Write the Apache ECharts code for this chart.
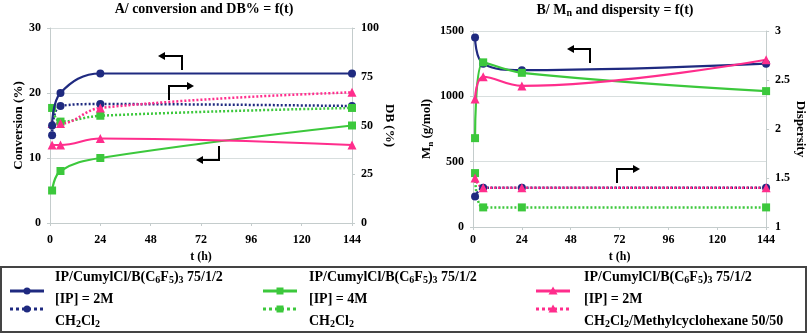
<!DOCTYPE html>
<html>
<head>
<meta charset="utf-8">
<script src="https://cdn.jsdelivr.net/npm/echarts@6/dist/echarts.min.js"></script>
<style>
html, body { margin: 0; padding: 0; background: #fff; }
#chart { width: 808px; height: 334px; }
</style>
</head>
<body>
<div id="chart"></div>
<script>
// sampling times (h)
const times = [1, 5, 24, 144];
const tTicks = [0, 24, 48, 72, 96, 120, 144];

// A/ conversion (%) - left axis
const convBlue = [15, 20, 23, 23];
const convGreen = [5, 8, 10, 15];
const convPink = [12, 12, 13, 12];
// A/ DB (%) - right axis
const dbBlue = [45, 60, 61, 60];
const dbGreen = [59, 52, 55, 59];
const dbPink = [51, 51, 59, 67];

// B/ Mn (g/mol) - left axis
const mnBlue = [1450, 1250, 1200, 1250];
const mnGreen = [680, 1260, 1180, 1040];
const mnPink = [980, 1150, 1080, 1280];
// B/ dispersity - right axis
const dispBlue = [1.31, 1.4, 1.4, 1.4];
const dispGreen = [1.55, 1.2, 1.2, 1.2];
const dispPink = [1.5, 1.4, 1.4, 1.4];

const BLUE = "#1f2a80";
const GREEN = "#3cc83c";
const PINK = "#ff2d8c";
const FONT = "Liberation Serif";

const sub = { fontFamily: FONT, fontWeight: "bold", fontSize: 9, color: "#000", verticalAlign: "bottom", padding: [7, 0, 0, 0] };
const norm = { fontFamily: FONT, fontWeight: "bold", fontSize: 13, color: "#000" };

function pts(vals) {
  return times.map((t, i) => [t, vals[i]]);
}

function line(vals, color, symbol, size, dotted, xi, yi) {
  return {
    type: "line",
    xAxisIndex: xi,
    yAxisIndex: yi,
    data: pts(vals),
    smooth: 0.4,
    symbol: symbol,
    symbolSize: size,
    lineStyle: { color: color, width: dotted ? 2.5 : 2.2, type: dotted ? [2, 2] : "solid" },
    itemStyle: { color: color },
    z: dotted ? 3 : 4,
  };
}

function xAxis(gi, margin, gap) {
  return {
    type: "value",
    gridIndex: gi,
    min: tTicks[0],
    max: tTicks[tTicks.length - 1],
    interval: tTicks[1] - tTicks[0],
    name: "t (h)",
    nameLocation: "middle",
    nameGap: gap,
    nameTextStyle: { fontFamily: FONT, fontWeight: "bold", fontSize: 12, color: "#000" },
    axisLine: { lineStyle: { color: "#c4cccc", width: 1 } },
    axisTick: { show: true, length: 3, lineStyle: { color: "#c4cccc" } },
    axisLabel: { fontFamily: FONT, fontWeight: "bold", fontSize: 12, color: "#000", margin: margin },
    splitLine: { show: false },
  };
}

function yAxis(gi, pos, min, max, step, name, gap, rot, grid) {
  return {
    type: "value",
    gridIndex: gi,
    position: pos,
    min: min,
    max: max,
    interval: step,
    name: name,
    nameLocation: "middle",
    nameGap: gap,
    nameRotate: rot,
    nameTextStyle: { fontFamily: FONT, fontWeight: "bold", fontSize: 13, color: "#000", rich: { a: norm, s: sub } },
    axisLine: { show: true, lineStyle: { color: "#c4cccc", width: 1 } },
    axisTick: { show: true, length: 3, lineStyle: { color: "#c4cccc" } },
    axisLabel: { fontFamily: FONT, fontWeight: "bold", fontSize: 12, color: "#000", margin: 9, formatter: (v) => String(v) },
    splitLine: { show: grid, lineStyle: { color: "#d8dede", width: 1 } },
  };
}

// annotation arrows (shaft + head)
function arrow(shaft, tip, dir) {
  const [x, y] = tip;
  const d = dir === "left" ? 7 : -7;
  return [
    { type: "polyline", shape: { points: shaft }, style: { stroke: "#000", lineWidth: 2, fill: null }, z: 10 },
    { type: "polygon", shape: { points: [[x, y], [x + d, y - 4], [x + d, y + 4]] }, style: { fill: "#000" }, z: 10 },
  ];
}

// legend entries
const legendCols = [
  { color: BLUE, symbol: "circle", lx: 10, tx: 55, l2: "[IP] = 2M", l3: "CH{s|2}Cl{s|2}" },
  { color: GREEN, symbol: "rect", lx: 263, tx: 309, l2: "[IP] = 4M", l3: "CH{s|2}Cl{s|2}" },
  { color: PINK, symbol: "triangle", lx: 536, tx: 584, l2: "[IP] = 2M", l3: "CH{s|2}Cl{s|2}/Methylcyclohexane 50/50" },
];

function marker(kind, cx, cy, color) {
  if (kind === "circle") return { type: "circle", shape: { cx: cx, cy: cy, r: 3.5 }, style: { fill: color }, z: 11 };
  if (kind === "rect") return { type: "rect", shape: { x: cx - 3.5, y: cy - 3.5, width: 7, height: 7 }, style: { fill: color }, z: 11 };
  return { type: "polygon", shape: { points: [[cx, cy - 4.5], [cx - 4.5, cy + 3.5], [cx + 4.5, cy + 3.5]] }, style: { fill: color }, z: 11 };
}

const graphic = [
  { type: "text", x: 204, y: 9, style: { text: "A/ conversion and DB% = f(t)", font: "bold 14px " + FONT, fill: "#000", align: "center", verticalAlign: "middle" } },
  { type: "text", x: 615, y: 10, style: { text: "{a|B/ M}{s|n}{a| and dispersity = f(t)}", align: "center", verticalAlign: "middle",
      rich: { a: { fontFamily: FONT, fontWeight: "bold", fontSize: 14, fill: "#000" }, s: { fontFamily: FONT, fontWeight: "bold", fontSize: 10, fill: "#000", verticalAlign: "bottom", padding: [7, 0, 0, 0] } } } },
  { type: "rect", shape: { x: 1, y: 267, width: 805, height: 65 }, style: { stroke: "#444", lineWidth: 2, fill: "none" } },
];
graphic.push(...arrow([[182, 70], [182, 56], [164, 56]], [158, 56], "left"));
graphic.push(...arrow([[169, 100], [169, 86], [188, 86]], [194, 86], "right"));
graphic.push(...arrow([[219, 146], [219, 160], [202, 160]], [196, 160], "left"));
graphic.push(...arrow([[590, 63], [590, 49], [573, 49]], [567, 49], "left"));
graphic.push(...arrow([[617, 183], [617, 169], [634, 169]], [640, 169], "right"));

const legRich = {
  a: { fontFamily: FONT, fontWeight: "bold", fontSize: 14, fill: "#000" },
  s: { fontFamily: FONT, fontWeight: "bold", fontSize: 10, fill: "#000", verticalAlign: "bottom", padding: [7, 0, 0, 0] },
};
legendCols.forEach((c) => {
  graphic.push({ type: "line", shape: { x1: c.lx, y1: 291, x2: c.lx + 34, y2: 291 }, style: { stroke: c.color, lineWidth: 3 } });
  graphic.push(marker(c.symbol, c.lx + 17, 291, c.color));
  graphic.push({ type: "line", shape: { x1: c.lx, y1: 309, x2: c.lx + 34, y2: 309 }, style: { stroke: c.color, lineWidth: 3, lineDash: [3, 3] } });
  graphic.push(marker(c.symbol, c.lx + 17, 309, c.color));
  const rows = ["IP/CumylCl/B(C{s|6}F{s|5}){s|3} 75/1/2", c.l2, c.l3];
  const ys = [277, 299, 321];
  rows.forEach((r, i) => {
    const txt = r.split(/(\{s\|[^}]*\})/).map((p) => (p.startsWith("{s|") ? p : p ? "{a|" + p + "}" : "")).join("");
    graphic.push({ type: "text", x: c.tx, y: ys[i], style: { text: txt, rich: legRich, verticalAlign: "middle", align: "left" } });
  });
});

const chart = echarts.init(document.getElementById("chart"));
const option = {
  animation: false,
  backgroundColor: "#fff",
  grid: [
    { left: 50, right: 456, top: 28, bottom: 111 },
    { left: 473, right: 41.5, top: 31, bottom: 107 },
  ],
  xAxis: [xAxis(0, 11, 28), xAxis(1, 7, 24)],
  yAxis: [
    yAxis(0, "left", 0, 30, 10, "Conversion (%)", 25, 90, true),
    yAxis(0, "right", 0, 100, 25, "DB (%)", 31, -90, false),
    yAxis(1, "left", 0, 1500, 500, "{a|M}{s|n}{a| (g/mol)}", 38, 90, true),
    yAxis(1, "right", 1, 3, 0.5, "Dispersity", 27, -90, false),
  ],
  series: [
    line(dbBlue, BLUE, "circle", 8, true, 0, 1),
    line(dbGreen, GREEN, "rect", 8, true, 0, 1),
    line(dbPink, PINK, "triangle", 9, true, 0, 1),
    line(convBlue, BLUE, "circle", 8, false, 0, 0),
    line(convGreen, GREEN, "rect", 8, false, 0, 0),
    line(convPink, PINK, "triangle", 9, false, 0, 0),
    line(dispBlue, BLUE, "circle", 8, true, 1, 3),
    line(dispGreen, GREEN, "rect", 8, true, 1, 3),
    line(dispPink, PINK, "triangle", 9, true, 1, 3),
    line(mnBlue, BLUE, "circle", 8, false, 1, 2),
    line(mnGreen, GREEN, "rect", 8, false, 1, 2),
    line(mnPink, PINK, "triangle", 9, false, 1, 2),
  ],
  graphic: graphic,
};
chart.setOption(option);
</script>
</body>
</html>
